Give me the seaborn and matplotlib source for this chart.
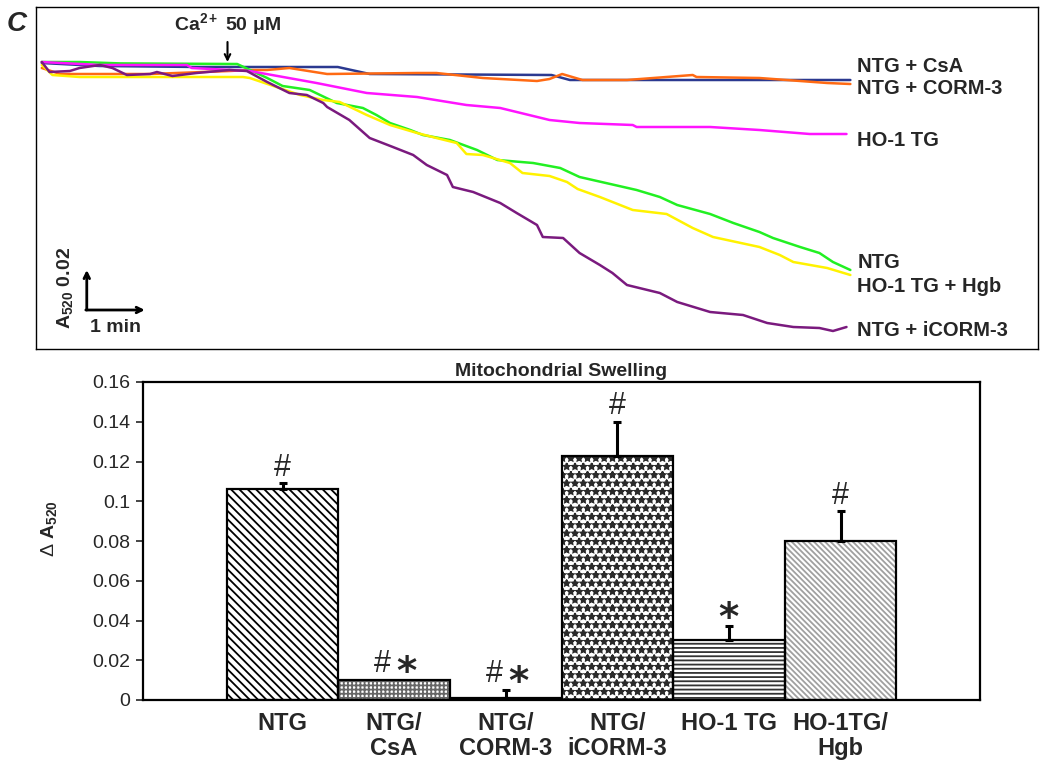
import numpy as np
import pandas as pd
import matplotlib
matplotlib.use('Agg')
import matplotlib.pyplot as plt
from matplotlib.patches import Rectangle
from matplotlib.ticker import FuncFormatter
import seaborn as sns

# ---- swelling traces: time (s) after start, change in A520 ----
t_csa = [0, 60, 163, 306, 339, 527, 546, 836]
a_csa = [0.001, -0.0005, -0.001, -0.001, -0.0045, -0.005, -0.0075, -0.0075]

t_corm = [0, 19, 112, 194, 215, 233, 256, 295, 388, 408, 456, 512, 525, 538, 559,
          605, 673, 677, 742, 812, 836]
a_corm = [-0.0015, -0.0045, -0.0045, -0.003, -0.0025, -0.0025, -0.0015, -0.0045,
          -0.004, -0.004, -0.0065, -0.008, -0.007, -0.0045, -0.0075, -0.0075,
          -0.005, -0.006, -0.0065, -0.009, -0.0095]

t_ho1 = [0, 60, 150, 155, 215, 284, 336, 388, 439, 474, 525, 556, 611, 615, 691,
         742, 794, 832]
a_ho1 = [0.0015, 0, 0, -0.0015, -0.003, -0.009, -0.014, -0.016, -0.02, -0.0215,
         -0.0275, -0.029, -0.03, -0.031, -0.031, -0.0325, -0.0345, -0.0345]

t_ntg = [0, 39, 81, 202, 233, 249, 277, 305, 332, 346, 360, 381, 394, 422, 450,
         471, 508, 536, 556, 615, 639, 657, 691, 715, 742, 756, 784, 804, 818, 836]
a_ntg = [0.0015, 0.0015, 0.0008, 0.0005, -0.0065, -0.0105, -0.0125, -0.019,
         -0.0215, -0.025, -0.029, -0.0325, -0.035, -0.0375, -0.0425, -0.0475,
         -0.049, -0.0515, -0.056, -0.0625, -0.066, -0.07, -0.0745, -0.079,
         -0.0835, -0.0865, -0.091, -0.094, -0.0985, -0.1025]

t_hgb = [0, 11, 39, 208, 215, 267, 291, 308, 336, 360, 388, 408, 429, 439, 456,
         484, 497, 525, 543, 554, 577, 611, 646, 673, 694, 742, 763, 777, 812, 836]
a_hgb = [0, -0.005, -0.006, -0.006, -0.0065, -0.015, -0.0175, -0.0185, -0.025,
         -0.03, -0.034, -0.0365, -0.039, -0.0445, -0.045, -0.049, -0.054,
         -0.0555, -0.0585, -0.062, -0.066, -0.0725, -0.0745, -0.0815, -0.086,
         -0.091, -0.095, -0.0985, -0.1015, -0.105]

t_icorm = [0, 8, 29, 39, 60, 73, 88, 112, 119, 135, 160, 194, 212, 233, 256, 274,
           291, 295, 318, 339, 363, 384, 398, 419, 425, 446, 474, 491, 512, 518,
           539, 556, 577, 590, 605, 639, 657, 691, 725, 750, 777, 804, 818, 832]
a_icorm = [0.0015, -0.0035, -0.003, -0.0015, 0, -0.0015, -0.005, -0.0045, -0.0035,
           -0.0055, -0.004, -0.0025, -0.003, -0.0085, -0.014, -0.015, -0.019,
           -0.021, -0.0275, -0.0365, -0.041, -0.045, -0.05, -0.055, -0.061,
           -0.0635, -0.069, -0.074, -0.08, -0.086, -0.0865, -0.094, -0.1, -0.104,
           -0.11, -0.114, -0.1185, -0.1235, -0.125, -0.129, -0.131, -0.1315,
           -0.133, -0.131]

trace_names = ['NTG + CsA', 'NTG + CORM-3', 'NTG', 'HO-1 TG + Hgb', 'HO-1 TG', 'NTG + iCORM-3']
trace_colors = {'NTG + CsA': '#2B3990', 'NTG + CORM-3': '#FF6A13', 'NTG': '#22F022',
                'HO-1 TG + Hgb': '#FFF200', 'HO-1 TG': '#FF14FF', 'NTG + iCORM-3': '#7A1A7E'}

# ---- bar chart: mitochondrial swelling ----
groups = ['NTG', 'NTG/\nCsA', 'NTG/\nCORM-3', 'NTG/\niCORM-3', 'HO-1 TG', 'HO-1TG/\nHgb']
swelling = [0.106, 0.010, 0.001, 0.123, 0.030, 0.080]
sem = [0.003, 0.0, 0.004, 0.017, 0.007, 0.015]
marks = ['#', '#*', '#*', '#', '*', '#']

hatches = ['\\\\\\\\', '++++', '', '**', '----', '\\\\\\\\\\\\']
hatch_colors = ['black', '#666666', 'black', '#2a2a2a', '#333333', '#a0a0a0']

sns.set_style('white')
plt.rcParams['font.family'] = ['Liberation Sans', 'DejaVu Sans']
plt.rcParams['mathtext.fontset'] = 'custom'
plt.rcParams['mathtext.rm'] = 'Liberation Sans'
plt.rcParams['mathtext.bf'] = 'Liberation Sans:bold'
plt.rcParams['mathtext.it'] = 'Liberation Sans:italic'
plt.rcParams['hatch.linewidth'] = 1.3

fig = plt.figure(figsize=(10.5, 7.68), dpi=100)
ax1 = fig.add_axes([36 / 1050, 1 - 349 / 768, 1002 / 1050, 342 / 768])
ax2 = fig.add_axes([143 / 1050, 1 - 700 / 768, 837 / 1050, 318 / 768])

# top panel: traces
all_t = [t_csa, t_corm, t_ntg, t_hgb, t_ho1, t_icorm]
all_a = [a_csa, a_corm, a_ntg, a_hgb, a_ho1, a_icorm]
df = pd.concat([pd.DataFrame({'time': t, 'dA': a, 'group': n})
                for n, t, a in zip(trace_names, all_t, all_a)], ignore_index=True)
sns.lineplot(data=df, x='time', y='dA', hue='group', hue_order=trace_names,
             palette=trace_colors, estimator=None, sort=False, lw=1.8,
             legend=False, ax=ax1)
ax1.set_xlim(-6, 1030)
ax1.set_ylim(-0.142, 0.029)
ax1.set_xticks([])
ax1.set_yticks([])
ax1.set_xlabel('')
ax1.set_ylabel('')
for s in ax1.spines.values():
    s.set_color('black')
    s.set_linewidth(1.0)

# labels at right of the traces
label_y = {'NTG + CsA': -0.001, 'NTG + CORM-3': -0.012, 'HO-1 TG': -0.0375,
           'NTG': -0.0985, 'HO-1 TG + Hgb': -0.111, 'NTG + iCORM-3': -0.133}
for name, y in label_y.items():
    ax1.text(843, y, name, fontsize=14.5, fontweight='bold', ha='left', va='center')

# Ca2+ addition
ax1.annotate('', xy=(192, 0.0015), xytext=(192, 0.0115),
             arrowprops=dict(arrowstyle='->', lw=1.5, color='black', shrinkA=0, shrinkB=0))
ax1.text(192, 0.0205, r'$\mathbf{Ca^{2+}}$ 50 μM', fontsize=14, fontweight='bold',
         ha='center', va='center')

# scale bars: 1 min and 0.02 A520
ax1.annotate('', xy=(46.5, -0.1025), xytext=(46.5, -0.1225),
             arrowprops=dict(arrowstyle='->', lw=2, color='black', shrinkA=0, shrinkB=0))
ax1.annotate('', xy=(106.5, -0.1225), xytext=(45.5, -0.1225),
             arrowprops=dict(arrowstyle='->', lw=2, color='black', shrinkA=0, shrinkB=0))
ax1.text(76.5, -0.1315, '1 min', fontsize=14, fontweight='bold', ha='center', va='center')
ax1.text(23.8, -0.1115, r'$\mathbf{A_{520}}$ 0.02', fontsize=14, fontweight='bold',
         ha='center', va='center', rotation=90)

fig.text(17 / 1050, 1 - 24 / 768, 'C', fontsize=20, fontweight='bold', style='italic',
         ha='center', va='center')

# bottom panel: bars
sns.barplot(x=groups, y=swelling, color='white', width=1, linewidth=0,
            errorbar=None, saturation=1, ax=ax2)
for p, h, hc in zip(ax2.patches, hatches, hatch_colors):
    p.set_facecolor('white')
    p.set_hatch(h)
    p.set_edgecolor(hc)
    p.set_linewidth(0)
    ax2.add_patch(Rectangle(p.get_xy(), p.get_width(), p.get_height(), fill=False,
                            ec='black', lw=1.6, zorder=p.get_zorder() + 0.1))

xpos = np.arange(len(groups))
vals = np.array(swelling)
errs = np.array(sem)
has_err = errs > 0
ax2.errorbar(xpos[has_err], vals[has_err], yerr=[np.zeros(has_err.sum()), errs[has_err]],
             fmt='none', ecolor='black', elinewidth=2.2, capsize=3, capthick=2.2, zorder=5)

for i, m in enumerate(marks):
    top = vals[i] + errs[i]
    if m == '#*':
        parts = [('#', -8.5), ('*', 9)]
    else:
        parts = [(m, 0)]
    for ch, dx in parts:
        if ch == '#':
            ax2.annotate('#', (i, top), xytext=(dx, 5.5), textcoords='offset points',
                         ha='center', va='baseline', fontsize=22)
        else:
            ax2.annotate('*', (i, top), xytext=(dx, -2.5), textcoords='offset points',
                         ha='center', va='baseline', fontsize=28, fontweight='bold',
                         family='DejaVu Sans')

ax2.set_xlim(-1.25, 6.25)
ax2.set_ylim(0, 0.16)
ax2.set_yticks(np.arange(0, 0.161, 0.02))
ax2.yaxis.set_major_formatter(FuncFormatter(lambda v, _: f'{v:g}' if v else '0'))
ax2.tick_params(axis='y', left=True, direction='out', length=5, width=1.2,
                labelsize=14, pad=4)
ax2.set_xticks(xpos)
ax2.set_xticklabels(groups, fontsize=17, fontweight='bold',
                    family=['Liberation Sans Narrow', 'Liberation Sans'], linespacing=1.1)
ax2.tick_params(axis='x', bottom=False, length=0, pad=9)
for s in ax2.spines.values():
    s.set_color('black')
    s.set_linewidth(1.6)

ax2.set_title('Mitochondrial Swelling', fontsize=14, fontweight='bold', pad=4)
ax2.set_ylabel(r'$\Delta$ $\mathbf{A_{520}}$', fontsize=14)
ax2.yaxis.set_label_coords(-0.1, 0.54)

fig.savefig('out.png', dpi=100)
